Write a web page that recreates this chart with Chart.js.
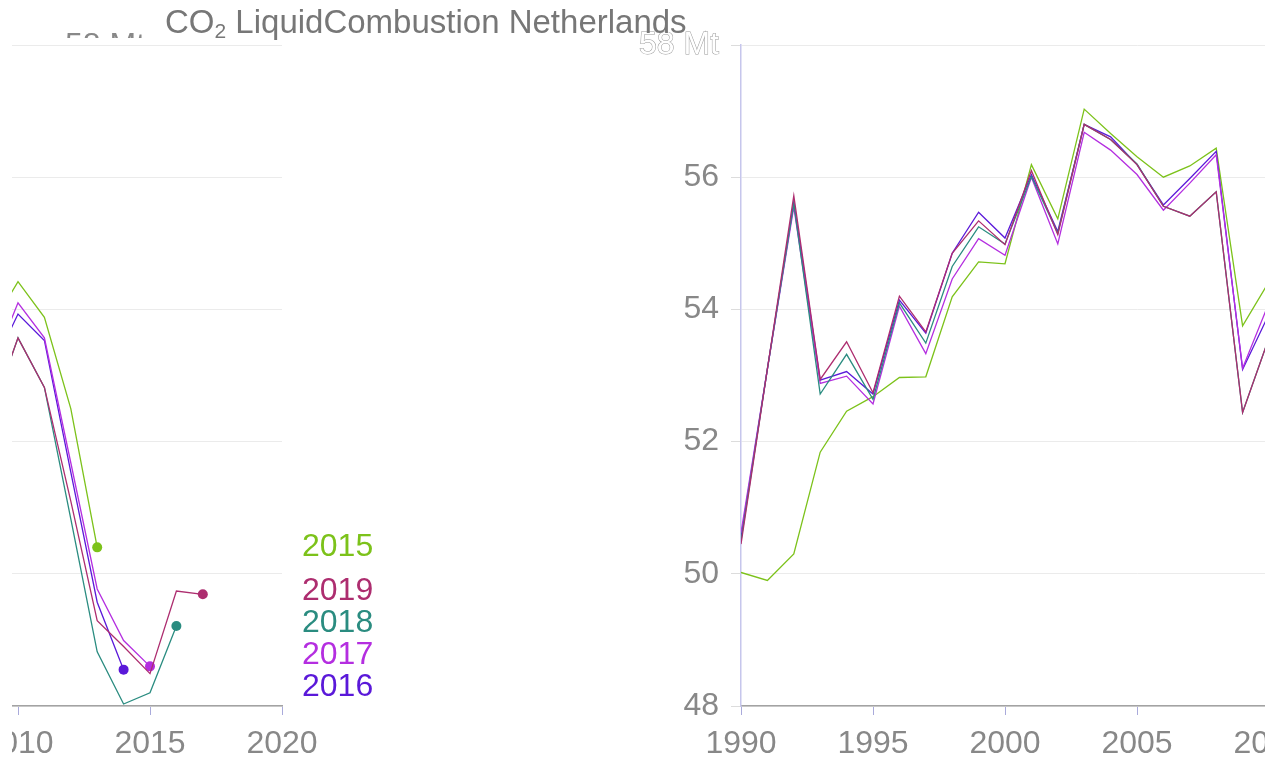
<!DOCTYPE html>
<html>
<head>
<meta charset="utf-8">
<script src="https://cdn.jsdelivr.net/npm/chart.js@4.4.0/dist/chart.umd.min.js"></script>
<style>
  body { margin: 0; background: #fff; width: 1285px; height: 765px; overflow: hidden; position: relative;
         font-family: "Liberation Sans", Arial, sans-serif; }
  .panel { position: absolute; top: 0; height: 765px; overflow: hidden; }
  .panel canvas { position: absolute; top: 0; }
  #rightPanel { left: 600px; width: 665px; }
  #rightPanel canvas { left: 31px; }
  #leftPanel { left: 12px; width: 400px; }
  #leftPanel canvas { left: -632px; }
  #title { position: absolute; left: 165px; top: 5px; font-size: 33px; line-height: 33px; color: #777; white-space: nowrap; }
  #title sub { font-size: 21px; line-height: 0; vertical-align: -5px; }
  #unitStub { position: absolute; left: 65px; top: 31px; height: 7px; overflow: hidden; }
  #unitStub span { display: block; margin-top: -3px; font-size: 32px; line-height: 32px; color: #888; white-space: nowrap; }
</style>
</head>
<body>
<div class="panel" id="leftPanel"><canvas id="chartLeft" width="1012" height="765"></canvas></div>
<div class="panel" id="rightPanel"><canvas id="chartRight" width="1012" height="765"></canvas></div>
<div id="unitStub"><span>58 Mt</span></div>
<div id="title">CO<sub>2</sub> LiquidCombustion Netherlands</div>
<script>
// emission years and the values published in each report year (Mt)
const years = [1990, 1991, 1992, 1993, 1994, 1995, 1996, 1997, 1998, 1999,
  2000, 2001, 2002, 2003, 2004, 2005, 2006, 2007, 2008, 2009,
  2010, 2011, 2012, 2013, 2014, 2015, 2016, 2017];

const report2015 = [50.02, 49.9, 50.3, 51.84, 52.46, 52.68, 52.97, 52.98, 54.19, 54.72,
  54.69, 56.19, 55.37, 57.03, 56.66, 56.31, 56.0, 56.17, 56.44, 53.75,
  54.42, 53.88, 52.5, 50.4];
const report2016 = [50.55, 53.1, 55.62, 52.93, 53.06, 52.72, 54.14, 53.64, 54.85, 55.47,
  55.08, 56.04, 55.18, 56.8, 56.61, 56.19, 55.58, 55.98, 56.39, 53.09,
  53.93, 53.53, 51.54, 49.57, 48.55];
const report2017 = [50.62, 53.1, 55.55, 52.88, 52.99, 52.57, 54.05, 53.33, 54.46, 55.07,
  54.82, 56.0, 54.99, 56.68, 56.41, 56.04, 55.5, 55.91, 56.34, 53.11,
  54.1, 53.57, 51.68, 49.77, 48.99, 48.6];
const report2018 = [50.5, 53.1, 55.6, 52.72, 53.32, 52.64, 54.1, 53.49, 54.65, 55.25,
  54.99, 56.01, 55.15, 56.8, 56.57, 56.2, 55.56, 55.41, 55.78, 52.44,
  53.57, 52.82, 50.83, 48.82, 48.03, 48.2, 49.21];
const report2019 = [50.45, 53.1, 55.72, 52.94, 53.51, 52.74, 54.2, 53.66, 54.85, 55.34,
  54.98, 56.1, 55.13, 56.8, 56.57, 56.19, 55.56, 55.41, 55.78, 52.44,
  53.57, 52.82, 51.1, 49.29, 48.9, 48.49, 49.74, 49.69];

const seriesLabels = ["2015", "2016", "2017", "2018", "2019"];
const seriesValues = [report2015, report2016, report2017, report2018, report2019];
const seriesColors = ["#7cc21a", "#5a18d9", "#b42ee0", "#2a8c80", "#ad2d6f"];

const xTicks = [1990, 1995, 2000, 2005, 2010, 2015, 2020];
const yTicks = [48, 50, 52, 54, 56, 58];
const unitLabel = "Mt";

const fontFamily = '"Liberation Sans", Arial, sans-serif';

// year labels next to the last point of each line
const endLabels = {
  id: "endLabels",
  afterDatasetsDraw(chart) {
    const ctx = chart.ctx;
    const items = chart.data.datasets.map((ds, i) => {
      const meta = chart.getDatasetMeta(i);
      const pt = meta.data[meta.data.length - 1];
      return { text: ds.label, color: ds.borderColor, y: pt.y };
    }).sort((a, b) => a.y - b.y);

    const gap = 32;
    for (let k = 0; k < 30; k++) {
      for (let i = 1; i < items.length; i++) {
        const d = items[i].y - items[i - 1].y;
        if (d < gap) {
          const m = (gap - d) / 2;
          items[i - 1].y -= m;
          items[i].y += m;
        }
      }
    }

    ctx.save();
    ctx.font = "32px " + fontFamily;
    ctx.textAlign = "left";
    ctx.textBaseline = "middle";
    items.forEach(it => {
      ctx.fillStyle = it.color;
      ctx.fillText(it.text, chart.chartArea.right + 20, it.y);
    });
    ctx.restore();
  }
};

function makeChart(canvasId) {
  const datasets = seriesLabels.map((label, i) => ({
    label: label,
    data: seriesValues[i].map((v, j) => ({ x: years[j], y: v })),
    borderColor: seriesColors[i],
    backgroundColor: seriesColors[i],
    borderWidth: 1.3,
    tension: 0,
    order: seriesLabels.length - i, // newest report drawn on top
    pointRadius: (c) => c.dataIndex === c.dataset.data.length - 1 ? 5 : 0,
    pointBorderWidth: 0,
    pointHoverRadius: 0
  }));

  return new Chart(document.getElementById(canvasId), {
    type: "line",
    data: { datasets: datasets },
    options: {
      responsive: false,
      animation: false,
      events: [],
      layout: { padding: { left: 0, right: 110, top: 45, bottom: 0 } },
      plugins: { legend: { display: false }, tooltip: { enabled: false } },
      scales: {
        x: {
          type: "linear",
          min: xTicks[0],
          max: xTicks[xTicks.length - 1],
          afterFit: (s) => { s.height = 59; },
          afterBuildTicks: (s) => { s.ticks = xTicks.map(v => ({ value: v })); },
          border: { color: "#a3a3a3", width: 1.5 },
          grid: { drawOnChartArea: false, tickLength: 9, tickColor: "#a9aadb" },
          ticks: {
            color: "#888",
            padding: 10,
            maxRotation: 0,
            font: { size: 32, family: fontFamily },
            callback: (v) => String(v)
          }
        },
        y: {
          min: yTicks[0],
          max: yTicks[yTicks.length - 1],
          afterFit: (s) => { s.width = 110; },
          afterBuildTicks: (s) => { s.ticks = yTicks.map(v => ({ value: v })); },
          border: { color: "#c6c6ec", width: 1.5 },
          grid: { color: "#ebebeb", tickLength: 10, tickColor: "#dcdcdc" },
          ticks: {
            padding: 12,
            font: { size: 32, family: fontFamily },
            color: (c) => c.tick && c.tick.value === 58 ? "#ffffff" : "#888",
            textStrokeColor: "#999999",
            textStrokeWidth: (c) => c.tick && c.tick.value === 58 ? 1 : 0,
            callback: (v) => v === 58 ? v + " " + unitLabel : String(v)
          }
        }
      }
    },
    plugins: [endLabels]
  });
}

makeChart("chartRight");
makeChart("chartLeft");
</script>
</body>
</html>
